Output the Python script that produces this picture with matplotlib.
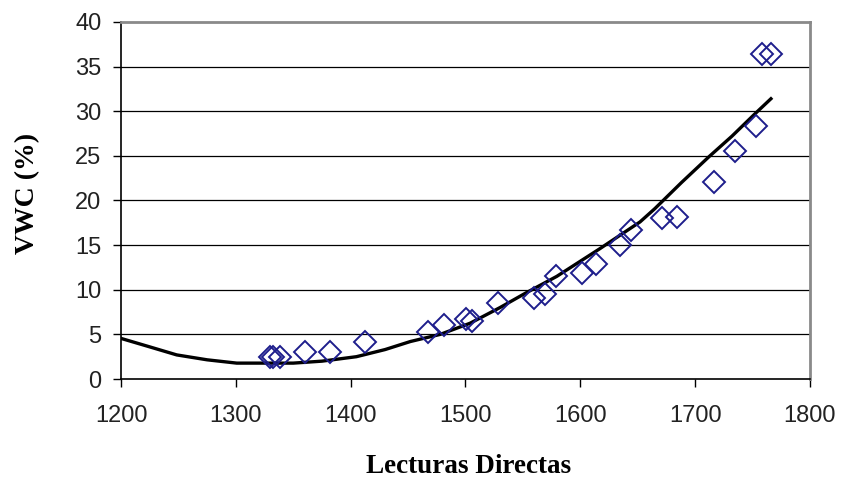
import numpy as np
import matplotlib
matplotlib.use("Agg")
import matplotlib.pyplot as plt

# measured readings (diamonds)
lecturas = [1329.7, 1332.5, 1338.5, 1360.5, 1382, 1412.5, 1467.6, 1481, 1500.6, 1505.8,
            1528.1, 1559.5, 1568.9, 1579, 1601.7, 1613.3, 1634.2, 1644.3, 1671.3, 1684.5,
            1716, 1734.6, 1752.6, 1757.8, 1766]
vwc = [2.5, 2.5, 2.5, 3.07, 3.07, 4.1, 5.3, 6.05, 6.75, 6.5,
       8.5, 9.06, 9.5, 11.5, 11.9, 12.9, 15.0, 16.7, 18.0, 18.2,
       22.1, 25.6, 28.4, 36.4, 36.4]

# trend curve
curva_x = [1200, 1225, 1248.5, 1275, 1300.8, 1325, 1350, 1375, 1405, 1430, 1452, 1478,
           1504, 1530, 1552, 1579.5, 1617, 1652, 1665, 1688, 1712, 1732, 1752, 1766]
curva_y = [4.55, 3.6, 2.7, 2.15, 1.78, 1.78, 1.78, 2.0, 2.5, 3.3, 4.2, 5.0,
           6.25, 8.0, 9.6, 11.5, 14.6, 17.6, 19.1, 22.0, 24.9, 27.2, 29.7, 31.4]

xticks = [1200, 1300, 1400, 1500, 1600, 1700, 1800]
yticks = [0, 5, 10, 15, 20, 25, 30, 35, 40]

fig = plt.figure(figsize=(8.41, 4.78), dpi=100)
ax = fig.add_axes([0.1439, 0.2071, 0.8192, 0.7469])

for y in yticks[1:-1]:
    ax.axhline(y, color='black', lw=0.9, zorder=1)

ax.plot(curva_x, curva_y, color='black', lw=2.4, zorder=2)
ax.plot(lecturas, vwc, linestyle='none', marker='D', markersize=11,
        markerfacecolor='none', markeredgecolor='#1e1e8c', markeredgewidth=1.4, zorder=3)

ax.set_xlim(1200, 1800)
ax.set_ylim(0, 40)
ax.set_xticks(xticks)
ax.set_yticks(yticks)

tick_font = {'family': 'Liberation Sans', 'size': 17}
ax.set_xticklabels([str(t) for t in xticks], fontdict=tick_font, color='#222222')
ax.set_yticklabels([str(t) for t in yticks], fontdict=tick_font, color='#222222')
ax.tick_params(axis='both', direction='out', length=6, width=1, color='black')
ax.tick_params(axis='x', pad=13)
ax.tick_params(axis='y', pad=8)

for s in ['left', 'bottom']:
    ax.spines[s].set_color('black')
    ax.spines[s].set_linewidth(1.2)
for s in ['top', 'right']:
    ax.spines[s].set_color('#8a8a8a')
    ax.spines[s].set_linewidth(2)

ax.set_xlabel('Lecturas Directas', family='Liberation Serif', fontweight='bold',
              fontsize=19.5, va='center', ha='center')
ax.set_ylabel('VWC (%)', family='Liberation Serif', fontweight='bold',
              fontsize=20, va='center', ha='center')
ax.xaxis.set_label_coords(0.505, -0.245)
ax.yaxis.set_label_coords(-0.135, 0.52)

fig.savefig('out.png', dpi=100, facecolor='white')
